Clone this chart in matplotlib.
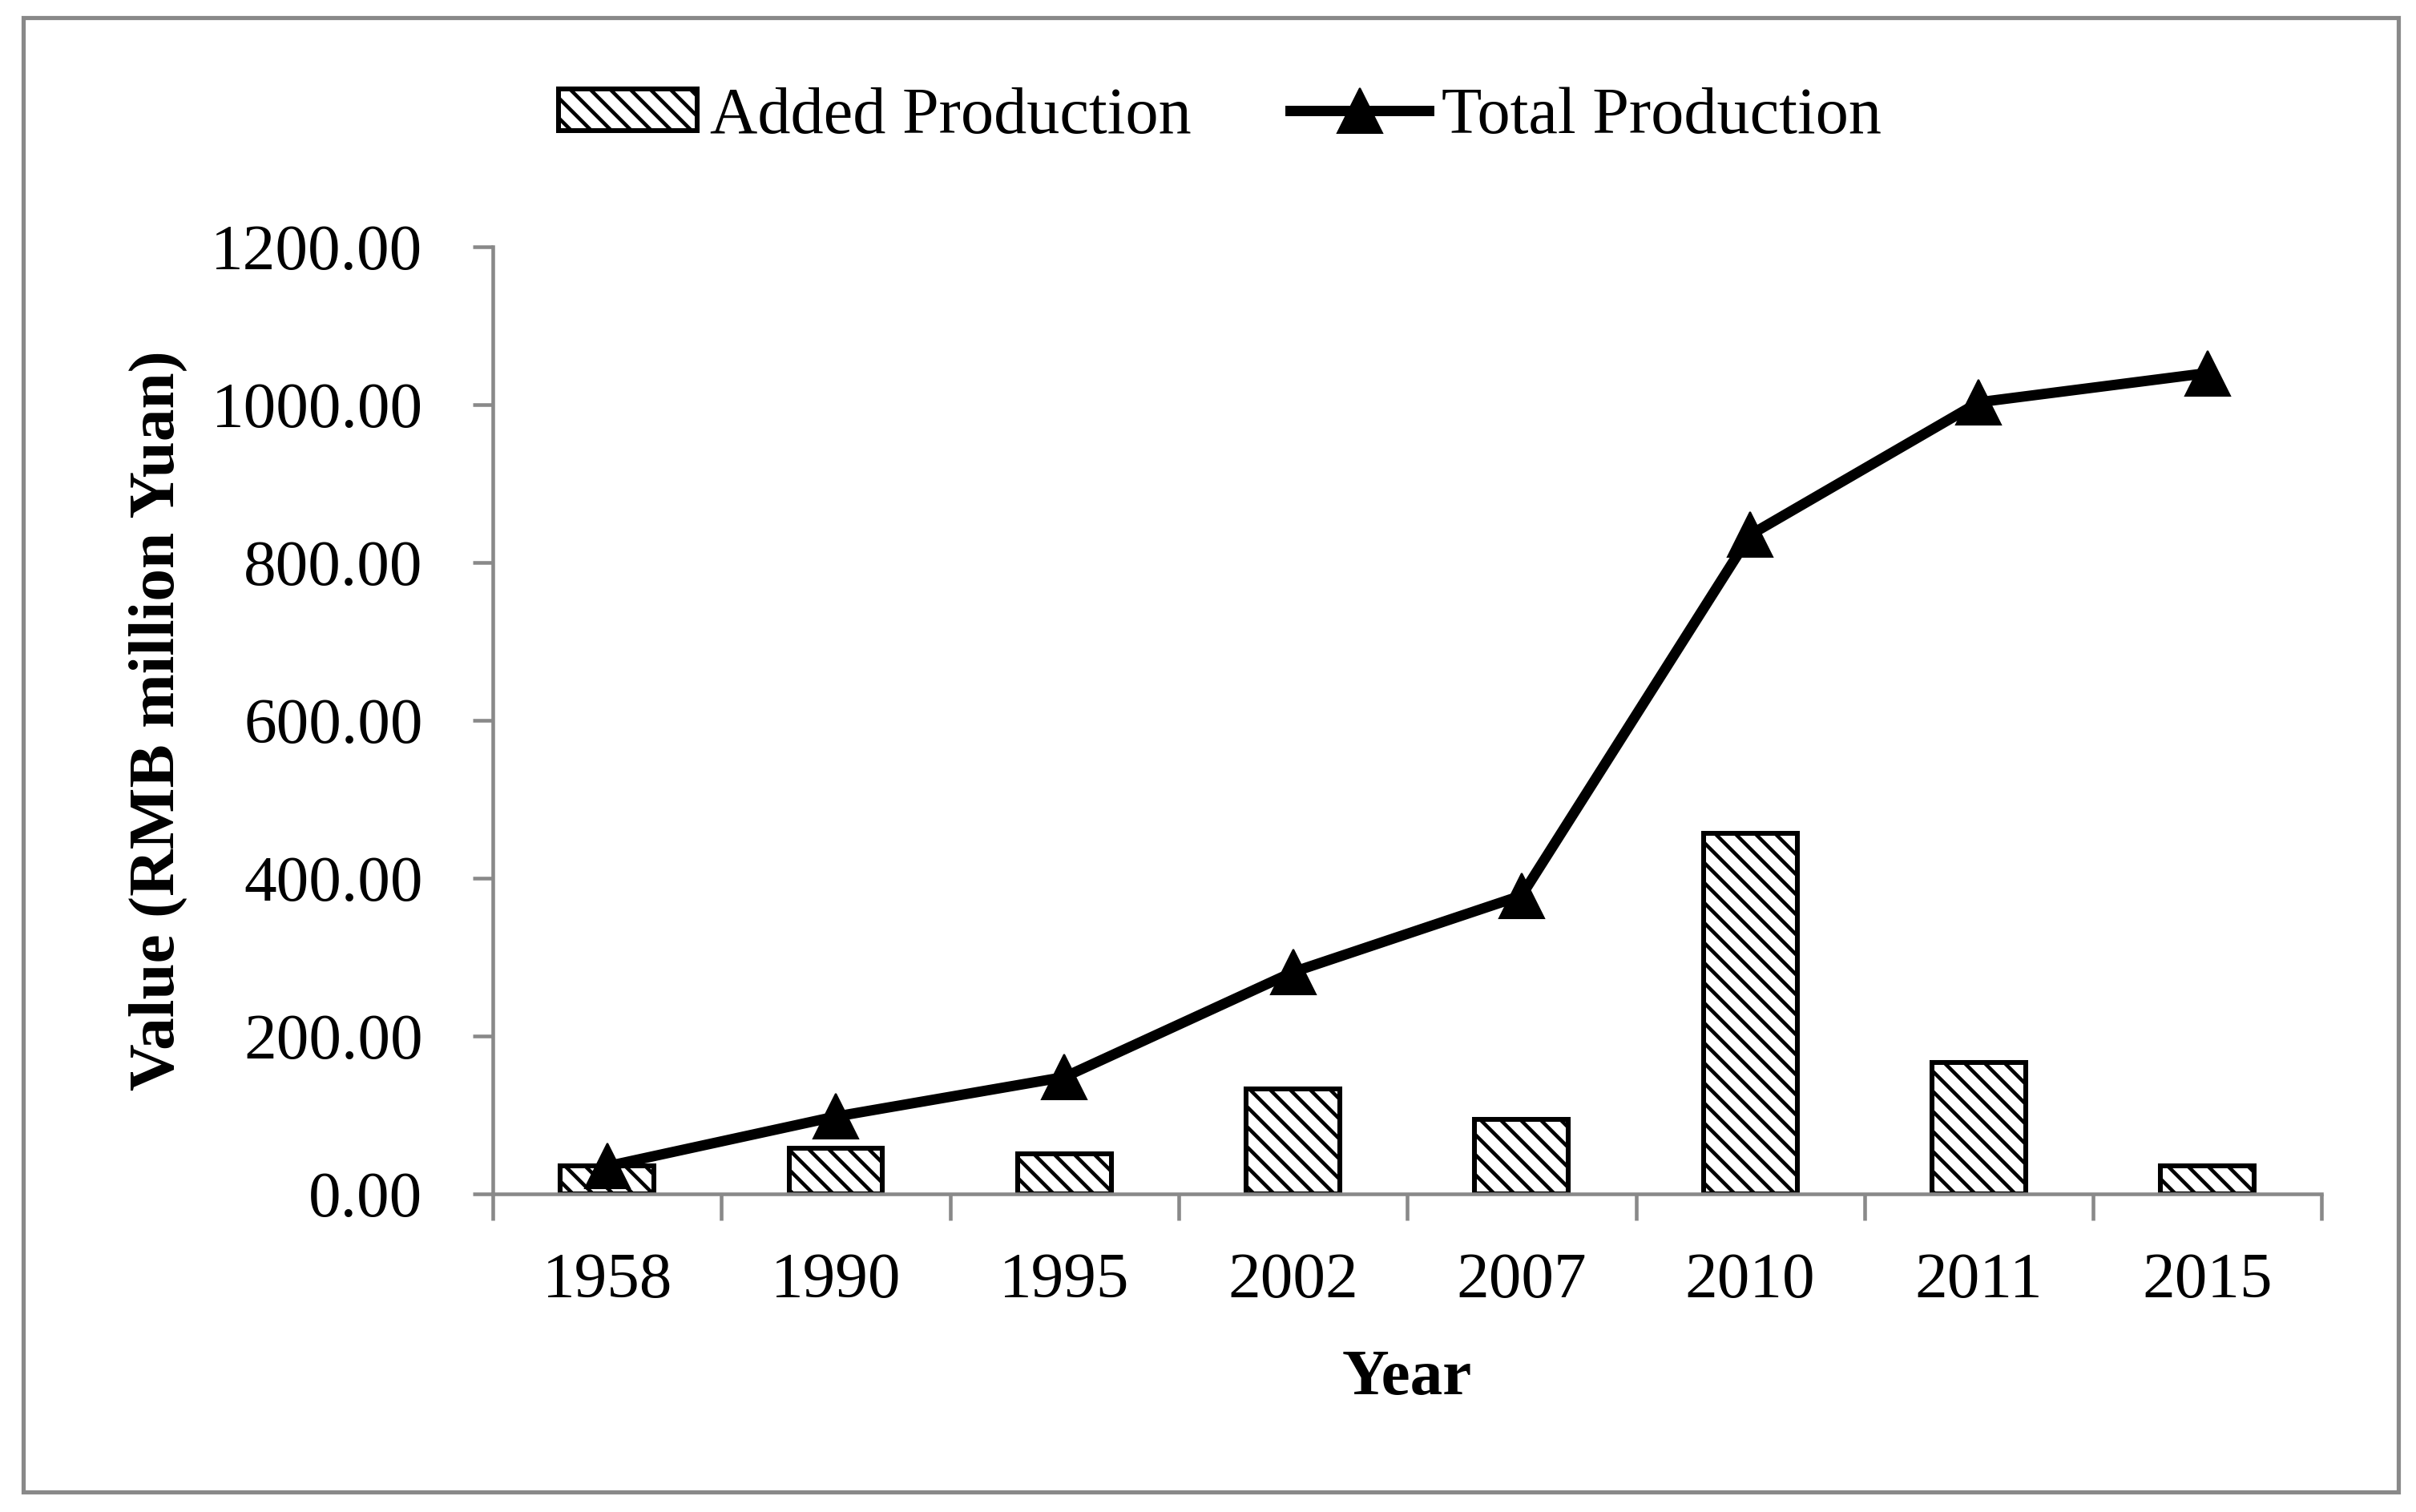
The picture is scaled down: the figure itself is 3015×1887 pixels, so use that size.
import numpy as np
import matplotlib.pyplot as plt
from matplotlib.patches import Rectangle
from matplotlib.ticker import FixedLocator, FuncFormatter

# données
years = ['1958', '1990', '1995', '2002', '2007', '2010', '2011', '2015']
added = [35, 58, 51, 133, 94, 457, 166, 35]
total = [35, 98, 148, 281, 378, 835, 1003, 1040]
y_ticks = [0, 200, 400, 600, 800, 1000, 1200]

plt.rcParams['font.family'] = ['Liberation Serif', 'DejaVu Serif']
plt.rcParams['hatch.linewidth'] = 2.2
plt.rcParams['hatch.color'] = 'black'

grey = '#898989'
fs = 39

fig = plt.figure(figsize=(20.1, 12.58), dpi=150)
ax = fig.add_axes([0.204, 0.2104, 0.757, 0.6264])

x = np.arange(len(years))
bars = ax.bar(x, added, width=0.41, color='white', edgecolor='black', linewidth=2.9,
              hatch='\\\\', label='Added Production', zorder=2)
line, = ax.plot(x, total, color='black', linewidth=6.2, marker='^', markersize=27,
                label='Total Production', zorder=3)

ax.set_xlim(-0.5, len(years) - 0.5)
ax.set_ylim(0, 1200)

# ticks entre les catégories, étiquettes au centre
ax.set_xticks(x)
ax.set_xticklabels(years)
ax.xaxis.set_minor_locator(FixedLocator(np.arange(len(years) + 1) - 0.5))
ax.tick_params(axis='x', which='major', length=0, pad=35, labelsize=fs)
ax.tick_params(axis='x', which='minor', length=16, width=2.2, color=grey, direction='out')

ax.set_yticks(y_ticks)
ax.yaxis.set_major_formatter(FuncFormatter(lambda v, p: f'{v:.2f}'))
ax.tick_params(axis='y', length=12, width=2.2, color=grey, direction='out', pad=30, labelsize=fs)

for s in ['top', 'right']:
    ax.spines[s].set_visible(False)
for s in ['left', 'bottom']:
    ax.spines[s].set_color(grey)
    ax.spines[s].set_linewidth(2.2)

ax.set_xlabel('Year', fontsize=fs, fontweight='bold', labelpad=23)
ax.set_ylabel('Value (RMB million Yuan)', fontsize=fs, fontweight='bold', labelpad=14)

fig.legend([bars, line], ['Added Production', 'Total Production'],
           loc='center', bbox_to_anchor=(0.505, 1 - 146 / 1887), ncol=2, frameon=False,
           fontsize=39.5, handlelength=2.1, handleheight=0.6, handletextpad=0.2,
           columnspacing=1.5)

# cadre gris autour de la figure
W, H = 3015, 1887
fig.patches.append(Rectangle((29 / W, 1 - 1862 / H), (2993 - 29) / W, (1862 - 22) / H,
                             transform=fig.transFigure, fill=False, edgecolor=grey,
                             linewidth=2.5, zorder=0))

fig.savefig('out.png', dpi=150)
